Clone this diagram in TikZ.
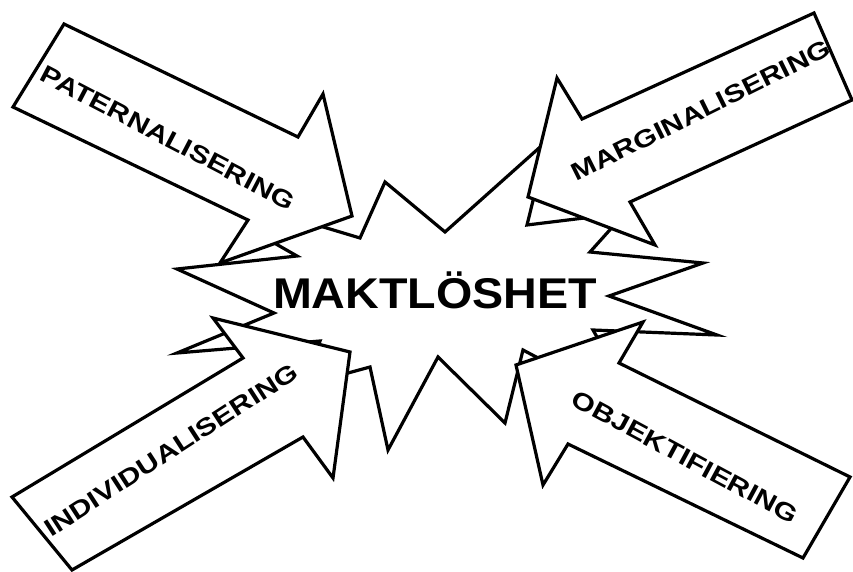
\documentclass[tikz,border=0pt]{standalone}
\usepackage{fontspec}
\setmainfont{Liberation Sans}
\tikzset{MKstar/.style={draw,fill=white,line width=3.2pt,miter limit=20},
         MKarrow/.style={draw,fill=white,line width=3.2pt},
         MKlab/.style={font=\bfseries\fontsize{24.5}{25}\selectfont,xscale=1.23,inner sep=0pt},
         MKbig/.style={font=\bfseries\fontsize{43}{43}\selectfont,xscale=1.085,inner sep=0pt}}
\begin{document}
\begin{tikzpicture}[x=1pt,y=-1pt]
  \useasboundingbox (0,0) rectangle (853,572);
  % burst in the middle
  \draw[MKstar] (177,269) -- (297,256) -- (262,236) -- (300,220) -- (360,238) -- (385,182)
     -- (445,232) -- (548,140) -- (527,225) -- (625,213) -- (590,252) -- (703,263)
     -- (609,296) -- (717,335) -- (593,330) -- (640,412) -- (523,350) -- (505,423)
     -- (438,357) -- (388,450) -- (370,367) -- (304,385) -- (320,341) -- (177,353)
     -- (274,313) -- cycle;
  \node[MKbig,anchor=base] (mak) at (435,308.3) {MAKTLÖSHET};
  % four arrows pointing in
  \draw[MKarrow] (64,24) -- (298,137) -- (323,94) -- (352,216) -- (220,263) -- (248,220) -- (13,107) -- cycle;
  \draw[MKarrow] (814,13) -- (582,119) -- (557,78) -- (528,197) -- (655,245) -- (630,202) -- (852,100) -- cycle;
  \draw[MKarrow] (12,497) -- (243,358) -- (213,318) -- (350,352) -- (333,478) -- (303,437) -- (72,570) -- cycle;
  \draw[MKarrow] (850,477) -- (619,363) -- (643,322) -- (516,365) -- (543,485) -- (568,444) -- (803,558) -- cycle;
  \foreach \n/\p/\a/\t in {pat/{168,138}/-27.6/PATERNALISERING,mar/{701,110.5}/26.4/MARGINALISERING,
                           ind/{171,450}/32.9/INDIVIDUALISERING,obj/{685,457}/-28.3/OBJEKTIFIERING}
     {\node[rotate=\a,MKlab] (\n) at (\p) {\t};}
\end{tikzpicture}
\end{document}
